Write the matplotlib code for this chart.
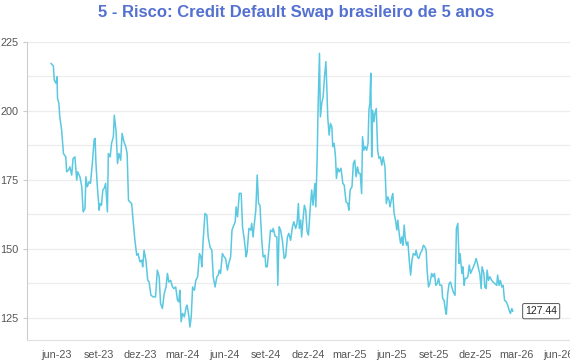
# -*- coding: utf-8 -*-
import matplotlib
matplotlib.use("Agg")
import matplotlib.pyplot as plt
import numpy as np
import pandas as pd

plt.rcParams['font.family'] = ['Liberation Sans', 'DejaVu Sans']

# dias contados a partir de 01/06/2023
dias = [-12, -7, -5, -1, 1, 2, 5, 7, 11, 15, 20, 22, 26, 29, 33, 36, 40, 44, 46, 51,
        55, 58, 62, 64, 67, 71, 74, 78, 82, 84, 86, 89, 93, 95, 98, 101, 104, 107, 111, 113,
        117, 120, 124, 126, 130, 133, 136, 140, 143, 147, 151, 154, 157, 160, 164, 167, 171, 175, 178, 182,
        186, 188, 191, 195, 199, 202, 206, 211, 216, 220, 224, 227, 231, 235, 239, 242, 245, 249, 253, 256,
        260, 264, 267, 269, 272, 275, 279, 283, 285, 289, 291, 294, 297, 301, 304, 308, 312, 315, 317, 320,
        324, 328, 331, 335, 339, 342, 346, 350, 353, 355, 358, 362, 366, 369, 373, 376, 380, 383, 387, 390,
        392, 395, 399, 403, 406, 410, 414, 416, 420, 424, 426, 429, 431, 435, 438, 441, 444, 448, 451, 455,
        457, 460, 464, 467, 471, 473, 477, 481, 483, 486, 489, 493, 497, 500, 504, 507, 511, 515, 518, 522,
        525, 528, 530, 533, 535, 538, 541, 544, 547, 550, 554, 557, 560, 564, 566, 569, 571, 574, 576, 579,
        582, 585, 588, 590, 592, 595, 598, 601, 603, 606, 609, 611, 614, 617, 621, 625, 628, 632, 636, 638,
        641, 645, 648, 651, 654, 657, 660, 663, 666, 668, 671, 674, 677, 680, 682, 684, 686, 688, 690, 693,
        695, 698, 701, 704, 707, 710, 713, 717, 720, 723, 726, 728, 732, 734, 737, 740, 743, 745, 748, 751,
        754, 756, 759, 761, 764, 767, 770, 773, 776, 779, 783, 785, 788, 791, 794, 798, 801, 804, 807, 809,
        812, 815, 819, 822, 825, 828, 831, 834, 837, 841, 843, 846, 849, 851, 854, 857, 860, 863, 866, 870,
        873, 876, 879, 881, 885, 887, 890, 892, 895, 898, 901, 904, 907, 910, 913, 916, 919, 922, 924, 927,
        929, 933, 935, 938, 940, 943, 946, 950, 953, 957, 961, 963, 966, 969, 972, 975, 978, 982, 985, 988,
        991, 994, 996]

cds = [217.1, 216.2, 211.1, 209.9, 212.3, 204.5, 202.7, 197.8, 193.0, 184.5, 183.3, 177.9, 178.5, 179.7, 176.7, 182.7, 183.3, 174.9, 177.9, 176.1,
       172.5, 163.4, 164.6, 176.1, 172.5, 174.3, 173.7, 180.9, 189.4, 190.0, 180.9, 172.5, 164.0, 166.4, 165.8, 171.3, 171.9, 173.7, 163.4, 184.5,
       183.3, 188.2, 190.6, 198.4, 192.4, 180.9, 184.5, 182.1, 191.8, 188.8, 187.0, 184.5, 167.6, 167.0, 166.4, 160.4, 153.1, 147.7, 148.3, 145.3,
       145.9, 143.5, 149.5, 145.9, 138.6, 138.0, 133.2, 132.6, 132.6, 142.3, 139.9, 130.2, 128.4, 133.8, 136.2, 141.1, 138.0, 138.6, 136.2, 135.6,
       136.2, 131.4, 130.8, 135.0, 123.6, 126.6, 125.4, 129.0, 129.6, 125.4, 121.7, 125.4, 136.2, 135.0, 138.6, 139.9, 148.3, 147.1, 143.5, 153.1,
       162.8, 162.2, 154.3, 150.7, 149.5, 139.9, 136.2, 139.9, 140.5, 142.3, 141.1, 148.3, 147.1, 146.5, 142.3, 144.7, 147.1, 156.8, 158.6, 159.8,
       165.2, 161.6, 170.1, 170.1, 158.0, 153.1, 147.1, 148.9, 157.4, 156.8, 159.2, 154.3, 158.0, 164.0, 176.7, 166.4, 165.8, 153.1, 147.1, 147.7,
       143.5, 143.5, 150.7, 156.8, 156.2, 157.4, 154.6, 154.3, 136.8, 158.0, 156.8, 153.1, 146.5, 147.1, 154.3, 155.6, 153.1, 158.0, 159.8, 157.4,
       159.2, 166.4, 157.4, 160.4, 154.3, 160.4, 165.8, 164.0, 156.2, 155.0, 165.2, 171.3, 165.8, 173.7, 165.2, 183.3, 201.4, 220.8, 197.8, 202.7,
       205.1, 212.3, 217.8, 208.7, 197.8, 191.2, 195.4, 194.2, 187.0, 188.2, 183.3, 175.5, 179.2, 177.9, 179.2, 173.7, 173.1, 167.0, 166.4, 164.0,
       171.3, 172.5, 180.9, 182.1, 176.1, 179.7, 177.3, 177.3, 170.0, 190.6, 185.7, 187.0, 185.7, 188.2, 200.2, 202.7, 213.6, 183.3, 200.2, 196.0,
       199.0, 200.8, 185.7, 182.7, 183.3, 180.3, 183.3, 179.7, 166.4, 168.8, 167.6, 165.2, 168.8, 170.0, 162.8, 160.4, 156.8, 160.4, 155.6, 152.0,
       154.3, 151.3, 158.6, 154.3, 151.3, 152.5, 145.9, 140.5, 145.9, 148.3, 147.7, 149.5, 147.1, 146.5, 148.3, 149.5, 151.3, 150.7, 149.5, 142.3,
       136.2, 137.4, 141.1, 139.9, 141.1, 136.8, 137.4, 139.3, 136.8, 136.8, 132.0, 131.4, 127.8, 126.3, 133.8, 137.4, 138.0, 136.2, 134.4, 133.2,
       157.4, 159.2, 144.7, 148.3, 141.1, 143.5, 136.8, 139.3, 139.3, 139.9, 144.1, 141.1, 142.3, 143.5, 144.7, 146.5, 144.7, 142.3, 141.1, 135.6,
       143.5, 141.1, 136.2, 135.6, 142.3, 138.6, 139.9, 138.6, 138.0, 137.4, 136.8, 140.5, 136.8, 138.6, 136.2, 136.8, 131.4, 130.8, 129.6, 127.8,
       126.6, 128.4, 127.44]

rotulos_x = ['jun-23', 'set-23', 'dez-23', 'mar-24', 'jun-24', 'set-24', 'dez-24',
             'mar-25', 'jun-25', 'set-25', 'dez-25', 'mar-26', 'jun-26']
titulo = '5 - Risco: Credit Default Swap brasileiro de 5 anos'

base = pd.Timestamp('2023-06-01')
datas = base + pd.to_timedelta(dias, unit='D')

fig = plt.figure(figsize=(5.7, 3.6), dpi=100)
ax = fig.add_axes([27 / 570, 20 / 360, 543 / 570, 298.3 / 360])

ax.plot(datas, cds, color='#5ac8e0', lw=1.1, zorder=3)

ax.set_ylim(117, 225)
ax.set_xlim(base - pd.Timedelta(days=64.6), base + pd.Timedelta(days=1121))
ax.set_yticks([125, 150, 175, 200, 225])
ax.set_yticks(np.arange(137.5, 225, 25), minor=True)
ax.grid(axis='y', which='both', color='#ececec', lw=0.9, zorder=0)

ticks = pd.date_range('2023-06-01', '2026-06-01', freq='3MS')
ax.set_xticks(ticks)
ax.set_xticklabels(rotulos_x)
ax.tick_params(axis='x', length=0, pad=7, labelsize=7.8, colors='#555555')
ax.tick_params(axis='y', which='major', length=3, pad=3, labelsize=7.8, color='#cccccc', labelcolor='#555555')
ax.tick_params(axis='y', which='minor', length=0)

for s in ['top', 'right']:
    ax.spines[s].set_visible(False)
ax.spines['left'].set_color('#cccccc')
ax.spines['bottom'].set_color('#e0e0e0')

ax.annotate(f'{cds[-1]:.2f}', xy=(datas[-1], cds[-1]), xytext=(9, 0), textcoords='offset points',
            va='center', ha='left', fontsize=7.5, color='#222222',
            bbox=dict(boxstyle='round,pad=0.25,rounding_size=0.15', fc='white', ec='#555555', lw=0.7))

fig.text(296 / 570, 1 - 12 / 360, titulo, ha='center', va='center', fontsize=12,
         fontweight='bold', color='#5470d0')

fig.savefig('out.png', dpi=100)
